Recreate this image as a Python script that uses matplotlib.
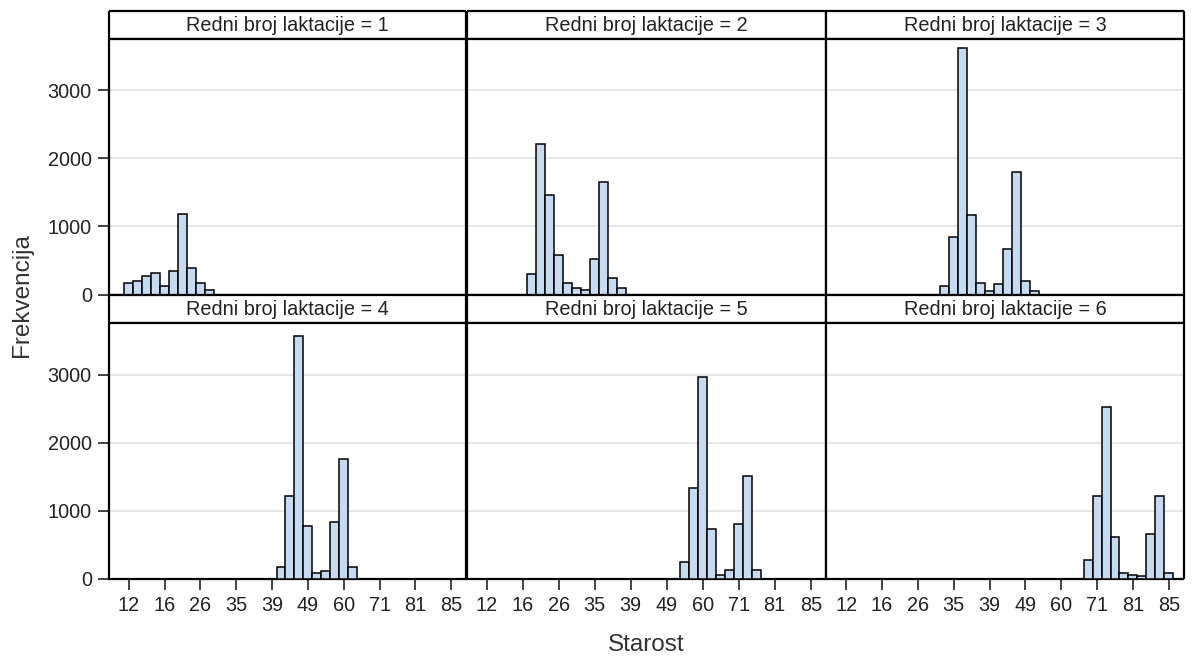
import numpy as np
import matplotlib
matplotlib.use("Agg")
import matplotlib.pyplot as plt

plt.rcParams['font.family'] = ['Liberation Sans', 'DejaVu Sans']

# tick labels shown under every 4th bin of the age axis
tick_labels = ["12", "16", "26", "35", "39", "49", "60", "71", "81", "85"]
n_bins = 37

# frequencies per lactation: (first bin index, counts)
lact_1 = (0, [172, 191, 265, 309, 123, 343, 1181, 387, 172, 59])
lact_2 = (5, [294, 2216, 1461, 578, 176, 98, 69, 525, 1657, 240, 98])
lact_3 = (11, [122, 846, 3626, 1173, 171, 49, 147, 675, 1794, 196, 49])
lact_4 = (17, [182, 1216, 3566, 773, 84, 118, 832, 1768, 182])
lact_5 = (22, [256, 1340, 2974, 734, 59, 133, 808, 1512, 133])
lact_6 = (27, [280, 1226, 2521, 616, 93, 59, 44, 665, 1226, 93])

panels = [lact_1, lact_2, lact_3, lact_4, lact_5, lact_6]
panel_titles = ["Redni broj laktacije = %d" % i for i in range(1, 7)]

bar_color = "#C6DAF2"
W, H = 1192, 657
fig = plt.figure(figsize=(W / 100, H / 100), dpi=100)

col_edges = [108.5, 466.5, 826, 1184]
row_tops = [10.5, 295]
head_h = 28
plot_h = 256

for k, (start, counts) in enumerate(panels):
    r, c = divmod(k, 3)
    x0, x1 = col_edges[c], col_edges[c + 1]
    top = row_tops[r]
    # header strip
    hax = fig.add_axes([x0 / W, 1 - (top + head_h) / H, (x1 - x0) / W, head_h / H])
    hax.set_xticks([])
    hax.set_yticks([])
    for s in hax.spines.values():
        s.set_linewidth(1.6)
        s.set_capstyle("butt")
    hax.text(0.5, 0.47, panel_titles[k], ha="center", va="center", fontsize=14.3,
             color="#222222", transform=hax.transAxes)
    # plot area
    ax = fig.add_axes([x0 / W, 1 - (top + head_h + plot_h) / H, (x1 - x0) / W, plot_h / H])
    vals = np.zeros(n_bins)
    vals[start:start + len(counts)] = counts
    ax.bar(np.arange(n_bins), vals, width=1.0, color=bar_color, edgecolor="black",
           linewidth=1.1, zorder=3)
    ax.set_xlim(-2.25, 37.7)
    ax.set_ylim(0, 3760)
    ax.set_yticks([0, 1000, 2000, 3000])
    ax.grid(axis="y", color="#E3E3E3", linewidth=1.2, zorder=0)
    for s in ax.spines.values():
        s.set_linewidth(1.6)
        s.set_capstyle("butt")
    ax.tick_params(length=8, width=1.2, colors="#222222", labelsize=14.3, pad=4)
    if c == 0:
        ax.set_yticklabels(["0", "1000", "2000", "3000"])
    else:
        ax.tick_params(axis="y", left=False, labelleft=False)
    ax.set_xticks(np.arange(0, 37, 4))
    if r == 1:
        ax.set_xticklabels(tick_labels)
    else:
        ax.tick_params(axis="x", bottom=False, labelbottom=False)

fig.text(22 / W, 1 - 295 / H, "Frekvencija", rotation=90, ha="center", va="center",
         fontsize=17.5, color="#333333")
fig.text(646 / W, 1 - 645 / H, "Starost", ha="center", va="center",
         fontsize=17.5, color="#333333")

fig.savefig("out.png", dpi=100)
